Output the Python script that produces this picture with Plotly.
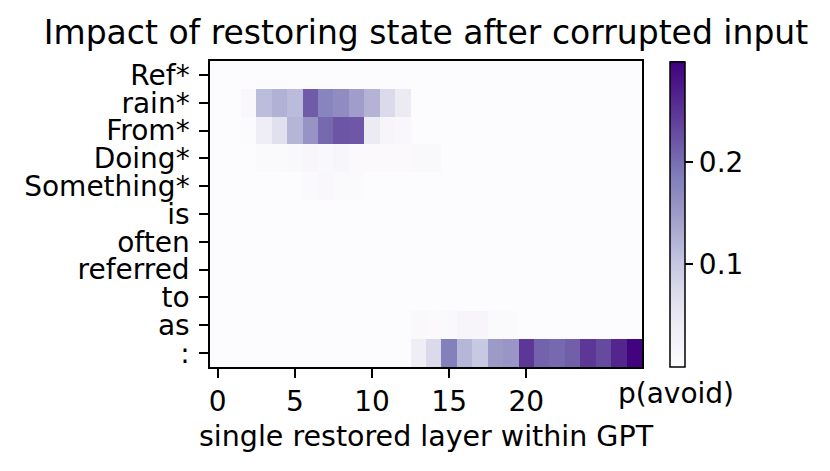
import plotly.graph_objects as go

tokens = ["Ref*", "rain*", "From*", "Doing*", "Something*", "is", "often",
          "referred", "to", "as", ":"]
layers = list(range(28))
x_ticks = [0, 5, 10, 15, 20]
cbar_ticks = [0.1, 0.2]

row_ref = [0.001, 0.001, 0.001, 0.001, 0.001, 0.001, 0.001, 0.001, 0.001, 0.001,
           0.001, 0.001, 0.001, 0.001, 0.001, 0.001, 0.001, 0.001, 0.001, 0.001,
           0.001, 0.001, 0.001, 0.001, 0.001, 0.001, 0.001, 0.001]
row_rain = [0.001, 0.001, 0.010, 0.112, 0.125, 0.113, 0.215, 0.176, 0.167, 0.146,
            0.122, 0.074, 0.042, 0.001, 0.001, 0.001, 0.001, 0.001, 0.001, 0.001,
            0.001, 0.001, 0.001, 0.001, 0.001, 0.001, 0.001, 0.001]
row_from = [0.001, 0.001, 0.003, 0.036, 0.063, 0.120, 0.158, 0.203, 0.220, 0.218,
            0.042, 0.015, 0.010, 0.001, 0.001, 0.001, 0.001, 0.001, 0.001, 0.001,
            0.001, 0.001, 0.001, 0.001, 0.001, 0.001, 0.001, 0.001]
row_doing = [0.001, 0.001, 0.001, 0.006, 0.005, 0.008, 0.012, 0.008, 0.014, 0.004,
             0.004, 0.004, 0.004, 0.008, 0.008, 0.001, 0.001, 0.001, 0.001, 0.001,
             0.001, 0.001, 0.001, 0.001, 0.001, 0.001, 0.001, 0.001]
row_something = [0.001, 0.001, 0.001, 0.001, 0.001, 0.001, 0.005, 0.010, 0.005, 0.005,
                 0.001, 0.001, 0.001, 0.001, 0.001, 0.001, 0.001, 0.001, 0.001, 0.001,
                 0.001, 0.001, 0.001, 0.001, 0.001, 0.001, 0.001, 0.001]
row_is = [0.001, 0.001, 0.001, 0.001, 0.001, 0.001, 0.001, 0.001, 0.001, 0.001,
          0.001, 0.001, 0.001, 0.001, 0.001, 0.001, 0.001, 0.001, 0.001, 0.001,
          0.001, 0.001, 0.001, 0.001, 0.001, 0.001, 0.001, 0.001]
row_often = [0.001, 0.001, 0.001, 0.001, 0.001, 0.001, 0.001, 0.001, 0.001, 0.001,
             0.001, 0.001, 0.001, 0.001, 0.001, 0.001, 0.001, 0.001, 0.001, 0.001,
             0.001, 0.001, 0.001, 0.001, 0.001, 0.001, 0.001, 0.001]
row_referred = [0.001, 0.001, 0.001, 0.001, 0.001, 0.001, 0.001, 0.001, 0.001, 0.001,
                0.001, 0.001, 0.001, 0.001, 0.001, 0.001, 0.001, 0.001, 0.001, 0.001,
                0.001, 0.001, 0.001, 0.001, 0.001, 0.001, 0.001, 0.001]
row_to = [0.001, 0.001, 0.001, 0.001, 0.001, 0.001, 0.001, 0.001, 0.001, 0.001,
          0.001, 0.001, 0.001, 0.001, 0.001, 0.001, 0.001, 0.001, 0.001, 0.001,
          0.001, 0.001, 0.001, 0.001, 0.001, 0.001, 0.001, 0.001]
row_as = [0.001, 0.001, 0.001, 0.001, 0.001, 0.001, 0.001, 0.001, 0.001, 0.001,
          0.001, 0.001, 0.001, 0.008, 0.004, 0.008, 0.015, 0.015, 0.006, 0.006,
          0.001, 0.001, 0.001, 0.001, 0.001, 0.001, 0.001, 0.001]
row_colon = [0.001, 0.001, 0.001, 0.001, 0.001, 0.001, 0.001, 0.001, 0.001, 0.001,
             0.001, 0.001, 0.001, 0.036, 0.074, 0.182, 0.119, 0.098, 0.149, 0.155,
             0.247, 0.209, 0.203, 0.212, 0.247, 0.230, 0.262, 0.295]

z = [row_ref, row_rain, row_from, row_doing, row_something, row_is, row_often,
     row_referred, row_to, row_as, row_colon]

FONT = "DejaVu Sans"
OFF = 8  # default page body margin
W, H = 830 - OFF, 471 - OFF
# plot-area edges in page pixels -> figure pixels
L, R, T, B = 210 - OFF, 642 - OFF, 61 - OFF, 367 - OFF
pw, ph = R - L, B - T

fig = go.Figure(go.Heatmap(
    z=z, x=layers, y=list(range(len(tokens))),
    colorscale="Purples", zmin=0.0, zmax=0.298,
    colorbar=dict(
        thickness=15, thicknessmode="pixels",
        len=305, lenmode="pixels",
        x=(670 - OFF - L) / pw, xanchor="left", xpad=0,
        y=0.5, yanchor="middle", ypad=0,
        tickvals=cbar_ticks, ticktext=["0.1", "0.2"],
        ticks="outside", ticklen=8, tickwidth=1.5, tickcolor="black",
        outlinewidth=1.5, outlinecolor="black",
        tickfont=dict(family=FONT, size=28, color="black"),
    ),
))

axis_common = dict(showline=True, mirror=True, linecolor="black", linewidth=1.5,
                   ticks="outside", ticklen=9, tickwidth=1.5, tickcolor="black",
                   showgrid=False, zeroline=False,
                   tickfont=dict(family=FONT, size=28, color="black"))

fig.update_layout(
    width=W, height=H,
    margin=dict(l=L, r=W - R, t=T, b=H - B, pad=0),
    paper_bgcolor="white", plot_bgcolor="white",
    font=dict(family=FONT, color="black"),
    title=dict(text="Impact of restoring state after corrupted input",
               x=0.5, xref="paper", xanchor="center",
               y=1 - (32 - OFF) / H, yref="container", yanchor="middle",
               font=dict(family=FONT, size=33, color="black")),
    xaxis=dict(range=[-0.5, 27.5], tickvals=x_ticks,
               ticktext=[str(v) for v in x_ticks], **axis_common),
    yaxis=dict(range=[10.5, -0.5], tickvals=list(range(len(tokens))),
               ticktext=tokens, ticklabelstandoff=4, **axis_common),
    annotations=[
        dict(text="single restored layer within GPT", x=0.5, xref="paper",
             y=(B - (436 - OFF)) / ph, yref="paper", xanchor="center", yanchor="middle",
             showarrow=False, font=dict(family=FONT, size=28.5, color="black")),
        dict(text="p(avoid)", x=(676 - OFF - L) / pw, xref="paper",
             y=(B - (393 - OFF)) / ph, yref="paper", xanchor="center", yanchor="middle",
             showarrow=False, font=dict(family=FONT, size=28, color="black")),
    ],
)

fig.write_html("out.html")
